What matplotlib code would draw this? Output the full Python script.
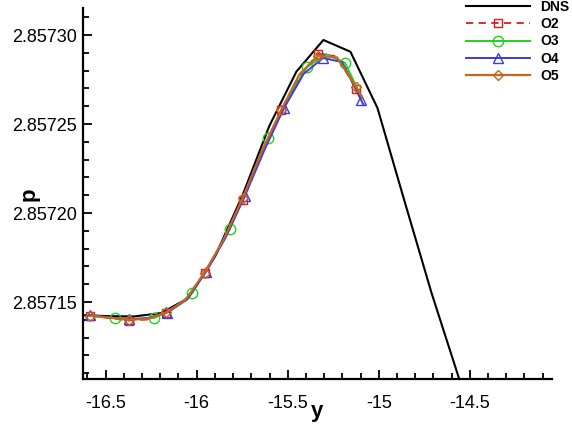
import matplotlib
matplotlib.use("Agg")
import matplotlib.pyplot as plt
from matplotlib.ticker import MultipleLocator, FormatStrFormatter, FuncFormatter

plt.rcParams['font.family'] = ['Liberation Sans', 'DejaVu Sans']

# DNS reference (coarse grid)
dns_y = [-16.6405, -16.492, -16.3435, -16.195, -16.0465, -15.898, -15.7495, -15.601,
         -15.4525, -15.304, -15.1555, -15.007, -14.8585, -14.71, -14.5615, -14.413]
dns_p = [2.8571427, 2.8571421, 2.8571419, 2.8571438, 2.8571522, 2.8571758, 2.8572096, 2.8572489,
         2.8572794, 2.8572972, 2.8572906, 2.8572590, 2.8572067, 2.8571551, 2.8571079, 2.8570600]

# O2
o2_y = [-16.585, -16.480, -16.374, -16.271, -16.168, -16.062, -15.957, -15.852,
        -15.747, -15.641, -15.536, -15.435, -15.333, -15.229, -15.125, -15.081]
o2_p = [2.8571424, 2.8571410, 2.8571396, 2.8571402, 2.8571440, 2.8571510, 2.8571661, 2.8571848,
        2.8572073, 2.8572345, 2.8572579, 2.8572768, 2.8572895, 2.8572880, 2.8572697, 2.8572607]

# O3
o3_y = [-16.597, -16.449, -16.339, -16.235, -16.130, -16.026, -15.921, -15.817,
        -15.713, -15.608, -15.504, -15.394, -15.290, -15.185, -15.114, -15.092]
o3_p = [2.8571424, 2.8571410, 2.8571404, 2.8571410, 2.8571461, 2.8571548, 2.8571725, 2.8571913,
        2.8572163, 2.8572421, 2.8572635, 2.8572820, 2.8572893, 2.8572843, 2.8572691, 2.8572646]

# O4
o4_y = [-16.585, -16.480, -16.374, -16.268, -16.163, -16.056, -15.949, -15.842,
        -15.735, -15.628, -15.520, -15.413, -15.306, -15.201, -15.097, -15.086]
o4_p = [2.8571427, 2.8571413, 2.8571404, 2.8571410, 2.8571441, 2.8571511, 2.8571669, 2.8571860,
        2.8572096, 2.8572354, 2.8572590, 2.8572781, 2.8572871, 2.8572848, 2.8572635, 2.8572612]

# O5
o5_y = [-16.585, -16.480, -16.374, -16.271, -16.168, -16.062, -15.957, -15.852,
        -15.747, -15.641, -15.536, -15.435, -15.333, -15.229, -15.125, -15.090]
o5_p = [2.8571424, 2.8571412, 2.8571401, 2.8571405, 2.8571442, 2.8571512, 2.8571664, 2.8571852,
        2.8572085, 2.8572350, 2.8572578, 2.8572780, 2.8572884, 2.8572874, 2.8572708, 2.8572650]

even = list(range(0, 15, 2))
odd = list(range(1, 14, 2))

fig = plt.figure(figsize=(5.72, 4.28), dpi=100)
ax = fig.add_axes([0.1446, 0.1138, 0.8199, 0.8668])

ax.plot(dns_y, dns_p, color='black', lw=1.5, label='DNS')
ax.plot(o2_y, o2_p, color='#e0191b', lw=1.3, ls=(0, (4, 3)), marker='s', ms=6,
        mfc='none', mew=1.0, markevery=even, label='O2')
ax.plot(o3_y, o3_p, color='#1fd31f', lw=1.4, marker='o', ms=7.5,
        mfc='none', mew=1.0, markevery=odd, label='O3')
ax.plot(o4_y, o4_p, color='#3b3bdf', lw=1.4, marker='^', ms=7,
        mfc='none', mew=1.0, markevery=even, label='O4')
ax.plot(o5_y, o5_p, color='#c8651b', lw=1.6, marker='D', ms=5.5,
        mfc='none', mew=1.0, markevery=even, label='O5')

ax.set_xlim(-16.626, -14.05)
ax.set_ylim(2.8571066, 2.857315)

ax.xaxis.set_major_locator(MultipleLocator(0.5))
ax.xaxis.set_minor_locator(MultipleLocator(0.1))
ax.xaxis.set_major_formatter(FuncFormatter(lambda v, pos: f'{v:g}'))
ax.yaxis.set_major_locator(MultipleLocator(0.00005))
ax.yaxis.set_minor_locator(MultipleLocator(0.00001))
ax.yaxis.set_major_formatter(FormatStrFormatter('%.5f'))

for s in ['top', 'right']:
    ax.spines[s].set_visible(False)
for s in ['left', 'bottom']:
    ax.spines[s].set_linewidth(1.6)

ax.tick_params(which='both', direction='in', width=1.3, labelsize=13)
ax.tick_params(which='major', length=6.5)
ax.tick_params(which='minor', length=4)
ax.tick_params(axis='y', pad=4)
ax.tick_params(axis='x', pad=11)

ax.set_xlabel('y', fontsize=16, fontweight='bold')
ax.set_ylabel('p', fontsize=16, fontweight='bold')
ax.xaxis.set_label_coords(0.5, -0.058)
ax.yaxis.set_label_coords(-0.091, 0.5)

fig.legend(loc='upper left', bbox_to_anchor=(0.8147, 1.0), frameon=False,
           prop={'size': 10, 'weight': 'bold'}, handlelength=4.6, handletextpad=0.75,
           labelspacing=0.23, borderpad=0, borderaxespad=0)

fig.savefig('out.png', dpi=100)
